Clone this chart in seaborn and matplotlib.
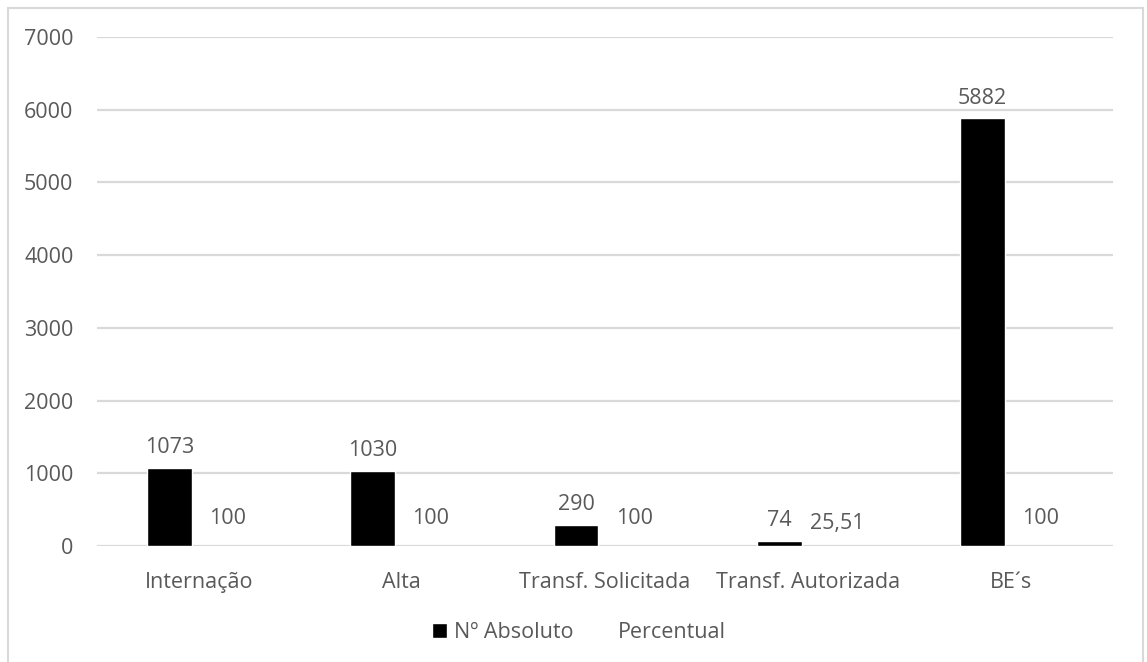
import pandas as pd
import seaborn as sns
import matplotlib.pyplot as plt
from matplotlib.patches import Rectangle, Patch

# dados
categorias = ["Internação", "Alta", "Transf. Solicitada", "Transf. Autorizada", "BE´s"]
absoluto = [1073, 1030, 290, 74, 5882]
percentual = [100, 100, 100, 25.51, 100]
series = ["Nº Absoluto", "Percentual"]
yticks = [0, 1000, 2000, 3000, 4000, 5000, 6000, 7000]

df = pd.DataFrame({
    "Categoria": categorias * 2,
    "Valor": absoluto + percentual,
    "Série": [series[0]] * len(categorias) + [series[1]] * len(categorias),
})

sns.set_theme(style="white")
plt.rcParams["font.family"] = ["Open Sans", "DejaVu Sans"]
cinza = "#595959"
fs = 15.5

fig = plt.figure(figsize=(11.47, 6.62), dpi=100)
ax = fig.add_axes([0.0846, 0.1752, 0.8858, 0.7689])

sns.barplot(data=df, x="Categoria", y="Valor", hue="Série", hue_order=series,
            palette=["black", "white"], width=0.572, gap=0.23,
            legend=False, ax=ax, saturation=1)

# barras do percentual sem preenchimento (invisíveis, como no Excel)
for b in ax.containers[1]:
    b.set_facecolor((1, 1, 1, 0))
    b.set_edgecolor((1, 1, 1, 0))

def fmt(v):
    return str(int(v)) if float(v).is_integer() else f"{v:.2f}".replace(".", ",")

for cont in ax.containers:
    ax.bar_label(cont, labels=[fmt(b.get_height()) for b in cont],
                 padding=7, fontsize=fs, color=cinza)

ax.set_ylim(0, 7000)
ax.set_yticks(yticks)
ax.set_xlim(-0.5, 4.5)
ax.set_xlabel("")
ax.set_ylabel("")
ax.grid(axis="y", color="#d9d9d9", linewidth=1.6)
ax.set_axisbelow(True)
for s in ax.spines.values():
    s.set_visible(False)
ax.tick_params(axis="y", labelsize=fs, labelcolor=cinza, length=0, pad=17)
ax.tick_params(axis="x", labelsize=fs, labelcolor=cinza, length=0, pad=19)

handles = [Patch(facecolor="black"), Patch(facecolor="white")]
leg = fig.legend(handles, series, loc="center", bbox_to_anchor=(0.505, 0.045),
                 ncol=2, frameon=False, fontsize=fs, handlelength=0.7,
                 handleheight=0.7, handletextpad=0.3, columnspacing=1.1)
for t in leg.get_texts():
    t.set_color(cinza)

# moldura do gráfico
fig.patches.append(Rectangle((8 / 1147, -0.1), 1135 / 1147, 1.1 - 8 / 662,
                             transform=fig.transFigure, fill=False,
                             edgecolor="#d9d9d9", linewidth=1.5))

fig.savefig("out.png", dpi=100)
